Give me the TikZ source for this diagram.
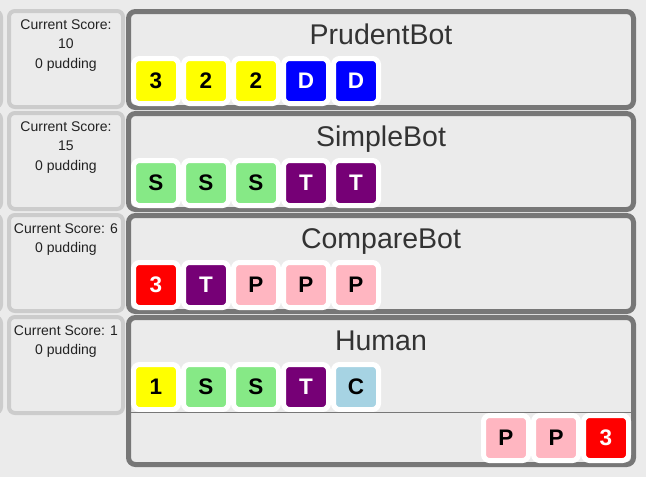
\documentclass[tikz,border=0pt]{standalone}
\usepackage{fontspec}
\setmainfont{Liberation Sans}
\definecolor{bg}{HTML}{EBEBEB}
\definecolor{scoreborder}{HTML}{CCCCCC}
\definecolor{boxborder}{HTML}{777777}
\definecolor{tyellow}{HTML}{FFFF00}
\definecolor{tblue}{HTML}{0000FF}
\definecolor{tgreen}{HTML}{86E986}
\definecolor{tpurple}{HTML}{760076}
\definecolor{tred}{HTML}{FF0000}
\definecolor{tpink}{HTML}{FFB6C1}
\definecolor{tlblue}{HTML}{A6D3E3}
\definecolor{titlecol}{HTML}{333333}
\definecolor{scoretext}{HTML}{222222}
\begin{document}
\begin{tikzpicture}[x=1pt,y=-1pt,
  scorebox/.style={draw=scoreborder, line width=4pt, fill=bg, rounded corners=6pt,
    minimum width=114pt, minimum height=96pt, inner sep=0pt},
  stubbox/.style={scorebox, minimum width=100pt},
  mainbox/.style={draw=boxborder, line width=5pt, fill=bg, rounded corners=7pt,
    minimum width=505pt, inner sep=0pt},
  scoretxt/.style={anchor=north, align=center, inner sep=0pt, text=scoretext,
    font=\fontsize{14}{19.5}\selectfont},
  titletxt/.style={anchor=base, inner sep=0pt, text=titlecol,
    font=\fontsize{28.5}{30}\selectfont},
  tile/.style={draw=white, line width=5pt, minimum size=45pt, inner sep=0pt,
    rounded corners=6pt, font=\fontsize{22.5}{22.5}\selectfont\bfseries},
  dk/.style={tile, fill=#1, text=black},
  lt/.style={tile, fill=#1, text=white},
  sepline/.style={draw=boxborder, line width=1pt}
]
\clip (0,0) rectangle (646,477);
\fill[bg] (0,0) rectangle (646,477);

% left stub boxes (cut off)
\node[stubbox] (l1) at (-49,59) {};
\node[stubbox] (l2) at (-49,161) {};
\node[stubbox] (l3) at (-49,263) {};
\node[stubbox] (l4) at (-49,365) {};

% score boxes
\node[scorebox] (s1) at (66,59) {};
\node[scorebox] (s2) at (66,161) {};
\node[scorebox] (s3) at (66,263) {};
\node[scorebox] (s4) at (66,365) {};
\node[scoretxt] (st1) at (66,19.5) {Current Score:\\10\\0 pudding};
\node[scoretxt] (st2) at (66,121.5) {Current Score:\\15\\0 pudding};
\node[scoretxt] (st3) at (66,223.5) {Current Score: 6\\0 pudding};
\node[scoretxt] (st4) at (66,325.5) {Current Score: 1\\0 pudding};

% main boxes
\node[mainbox, minimum height=96pt] (m1) at (381,59.5) {};
\node[mainbox, minimum height=96pt] (m2) at (381,161.5) {};
\node[mainbox, minimum height=96pt] (m3) at (381,263.5) {};
\node[mainbox, minimum height=147pt] (m4) at (381,391) {};

% titles
\node[titletxt] (t1) at (381,44) {PrudentBot};
\node[titletxt] (t2) at (381,146) {SimpleBot};
\node[titletxt] (t3) at (381,248) {CompareBot};
\node[titletxt] (t4) at (381,350) {Human};

% row 1
\node[dk=tyellow] (a1) at (156,81) {3};
\node[dk=tyellow] (a2) at (206,81) {2};
\node[dk=tyellow] (a3) at (256,81) {2};
\node[lt=tblue] (a4) at (306,81) {D};
\node[lt=tblue] (a5) at (356,81) {D};
% row 2
\node[dk=tgreen] (b1) at (156,183) {S};
\node[dk=tgreen] (b2) at (206,183) {S};
\node[dk=tgreen] (b3) at (256,183) {S};
\node[lt=tpurple] (b4) at (306,183) {T};
\node[lt=tpurple] (b5) at (356,183) {T};
% row 3
\node[lt=tred] (c1) at (156,285) {3};
\node[lt=tpurple] (c2) at (206,285) {T};
\node[dk=tpink] (c3) at (256,285) {P};
\node[dk=tpink] (c4) at (306,285) {P};
\node[dk=tpink] (c5) at (356,285) {P};
% row 4
\node[dk=tyellow] (d1) at (156,387) {1};
\node[dk=tgreen] (d2) at (206,387) {S};
\node[dk=tgreen] (d3) at (256,387) {S};
\node[lt=tpurple] (d4) at (306,387) {T};
\node[dk=tlblue] (d5) at (356,387) {C};

% separator in human box
\coordinate (sepL) at (131,412.5);
\coordinate (sepR) at (631,412.5);
\draw[sepline] (sepL) -- (sepR);

% hand tiles
\node[dk=tpink] (h1) at (506,438) {P};
\node[dk=tpink] (h2) at (556,438) {P};
\node[lt=tred] (h3) at (606,438) {3};
\end{tikzpicture}
\end{document}
